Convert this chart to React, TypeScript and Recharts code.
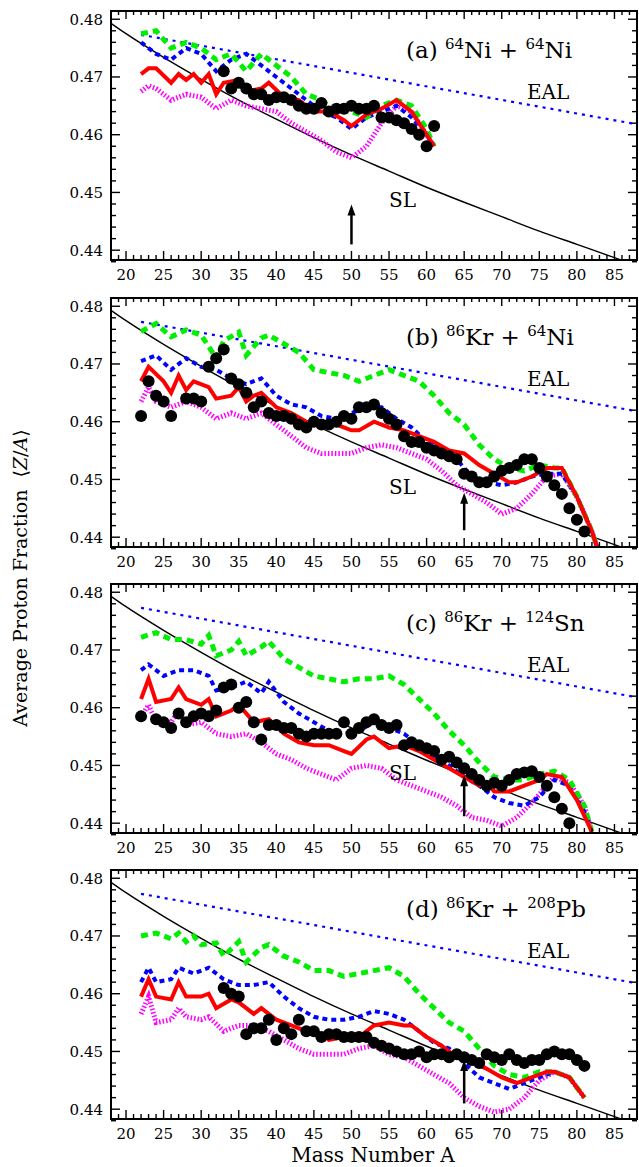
import React from 'react';
import { ComposedChart, Line, Scatter, XAxis, YAxis, ReferenceDot, ReferenceLine } from 'recharts';

type Pt = [number, number];

// Mass numbers and reference lines
const slA = [18, 20, 25, 30, 35, 40, 45, 50, 55, 60, 65, 70, 75, 80, 85, 88];
const slZA = [0.4793, 0.4775, 0.4734, 0.4696, 0.466, 0.4627, 0.4595, 0.4565, 0.4537, 0.4509, 0.4483, 0.4458, 0.4433, 0.441, 0.4387, 0.4373];
const ealA = [22, 88];
const ealZA = [0.4773, 0.4618];

// (a) 64Ni + 64Ni
const aGreen: Pt[] = [[22, 0.4775], [24, 0.478], [26, 0.475], [28, 0.476], [30, 0.475], [32, 0.473], [34, 0.474], [36, 0.471], [38, 0.474], [40, 0.472], [42, 0.47], [44, 0.467], [46, 0.466], [48, 0.464], [50, 0.464], [52, 0.463], [54, 0.465], [56, 0.466], [58, 0.465], [60, 0.461], [61, 0.458]];
const aBlue: Pt[] = [[22, 0.476], [24, 0.474], [26, 0.473], [28, 0.475], [30, 0.474], [32, 0.471], [34, 0.473], [36, 0.474], [38, 0.472], [40, 0.47], [42, 0.468], [44, 0.466], [46, 0.464], [48, 0.463], [50, 0.461], [52, 0.463], [54, 0.464], [56, 0.465], [58, 0.463], [60, 0.46], [61, 0.458]];
const aRed: Pt[] = [[22, 0.4705], [23, 0.4715], [24, 0.4715], [26, 0.469], [27, 0.4705], [28, 0.4695], [29, 0.4705], [30, 0.469], [31, 0.4705], [32, 0.467], [33, 0.469], [35, 0.4695], [36, 0.4675], [38, 0.468], [39, 0.469], [41, 0.4665], [43, 0.466], [45, 0.464], [47, 0.464], [49, 0.4625], [50, 0.4615], [52, 0.4635], [54, 0.4645], [56, 0.466], [58, 0.464], [60, 0.46], [61, 0.458]];
const aMagenta: Pt[] = [[22, 0.4675], [23, 0.4685], [24, 0.468], [26, 0.466], [28, 0.467], [30, 0.4665], [32, 0.4645], [34, 0.466], [36, 0.465], [38, 0.4645], [40, 0.464], [42, 0.462], [44, 0.4605], [46, 0.459], [48, 0.457], [50, 0.456], [52, 0.458], [54, 0.462], [56, 0.465], [58, 0.464], [60, 0.46], [61, 0.458]];
const aExp: Pt[] = [[33, 0.471], [34, 0.468], [35, 0.469], [36, 0.468], [37, 0.467], [38, 0.467], [39, 0.466], [40, 0.4665], [41, 0.4665], [42, 0.466], [43, 0.465], [44, 0.4645], [45, 0.4645], [46, 0.4655], [47, 0.464], [48, 0.4645], [49, 0.4645], [50, 0.465], [51, 0.4645], [52, 0.4645], [53, 0.465], [54, 0.463], [55, 0.463], [56, 0.4625], [57, 0.462], [58, 0.461], [59, 0.46], [60, 0.458], [61, 0.4615]];

// (b) 86Kr + 64Ni
const bGreen: Pt[] = [[22, 0.4756], [24, 0.477], [26, 0.4747], [28, 0.4759], [30, 0.475], [32, 0.471], [33, 0.474], [35, 0.4755], [36, 0.4715], [38, 0.4745], [39, 0.475], [41, 0.4735], [43, 0.472], [45, 0.469], [47, 0.4685], [49, 0.468], [51, 0.467], [53, 0.468], [55, 0.469], [57, 0.468], [59, 0.467], [61, 0.4645], [63, 0.4615], [65, 0.4595], [67, 0.456], [69, 0.4535], [71, 0.452], [73, 0.4515], [75, 0.4525], [77, 0.452], [78, 0.452], [80, 0.447], [82, 0.441], [83, 0.437]];
const bBlue: Pt[] = [[22, 0.4705], [24, 0.4715], [26, 0.469], [28, 0.471], [30, 0.4695], [32, 0.469], [34, 0.4675], [36, 0.4665], [38, 0.4675], [40, 0.4645], [42, 0.463], [44, 0.4625], [46, 0.461], [48, 0.4605], [50, 0.4615], [52, 0.4625], [54, 0.4625], [56, 0.4605], [58, 0.459], [60, 0.4565], [62, 0.4555], [64, 0.4535], [66, 0.4505], [68, 0.4495], [70, 0.449], [72, 0.4495], [74, 0.4505], [76, 0.451], [78, 0.451], [80, 0.447], [82, 0.441], [83, 0.437]];
const bRed: Pt[] = [[22, 0.467], [23, 0.4695], [25, 0.467], [26, 0.465], [27, 0.468], [28, 0.4655], [29, 0.467], [31, 0.466], [32, 0.464], [34, 0.4645], [35, 0.466], [36, 0.4635], [37, 0.4645], [38, 0.465], [40, 0.4625], [42, 0.4615], [44, 0.46], [46, 0.4595], [48, 0.4595], [50, 0.4585], [51, 0.4585], [53, 0.46], [55, 0.459], [57, 0.4585], [59, 0.4575], [61, 0.4565], [63, 0.455], [65, 0.4545], [67, 0.4525], [69, 0.451], [71, 0.4495], [72, 0.4495], [74, 0.4505], [76, 0.452], [78, 0.452], [80, 0.447], [82, 0.441], [83, 0.437]];
const bMagenta: Pt[] = [[22, 0.4635], [23, 0.466], [24, 0.4635], [26, 0.4625], [28, 0.4635], [30, 0.4625], [32, 0.4605], [34, 0.4615], [36, 0.4605], [38, 0.4615], [40, 0.4595], [42, 0.4575], [44, 0.4555], [46, 0.4545], [48, 0.4545], [50, 0.4545], [52, 0.4555], [54, 0.456], [56, 0.4555], [58, 0.4545], [60, 0.4535], [62, 0.4515], [64, 0.449], [66, 0.4475], [68, 0.446], [70, 0.444], [72, 0.445], [74, 0.4475], [76, 0.4505], [78, 0.451], [80, 0.447], [82, 0.441], [83, 0.437]];
const bExp: Pt[] = [[22, 0.461], [23, 0.467], [24, 0.4645], [25, 0.4635], [26, 0.461], [28, 0.464], [29, 0.464], [30, 0.4635], [31, 0.4695], [32, 0.471], [33, 0.4725], [34, 0.4675], [35, 0.4665], [36, 0.465], [37, 0.4625], [38, 0.4635], [39, 0.4615], [40, 0.461], [41, 0.461], [42, 0.4605], [43, 0.4595], [44, 0.459], [45, 0.46], [46, 0.4595], [47, 0.4595], [48, 0.46], [49, 0.461], [50, 0.4605], [51, 0.4625], [52, 0.4625], [53, 0.463], [54, 0.4615], [55, 0.4605], [56, 0.4595], [57, 0.4575], [58, 0.4565], [59, 0.4565], [60, 0.4555], [61, 0.455], [62, 0.4545], [63, 0.454], [64, 0.4535], [65, 0.451], [66, 0.4505], [67, 0.4495], [68, 0.4495], [69, 0.4505], [70, 0.4515], [71, 0.452], [72, 0.4525], [73, 0.4535], [74, 0.4535], [75, 0.452], [76, 0.4505], [77, 0.449], [78, 0.4475], [79, 0.445], [80, 0.443], [81, 0.441]];

// (c) 86Kr + 124Sn
const cGreen: Pt[] = [[22, 0.4722], [24, 0.473], [26, 0.4718], [28, 0.4718], [30, 0.471], [31, 0.4725], [32, 0.469], [34, 0.47], [35, 0.4715], [36, 0.469], [38, 0.4705], [39, 0.4715], [41, 0.4685], [43, 0.467], [45, 0.4655], [47, 0.465], [49, 0.4645], [51, 0.465], [53, 0.465], [55, 0.4655], [57, 0.464], [59, 0.4615], [61, 0.459], [63, 0.456], [65, 0.4535], [67, 0.4505], [69, 0.448], [71, 0.4475], [73, 0.4475], [75, 0.4485], [77, 0.449], [79, 0.4475], [81, 0.443], [82, 0.4385]];
const cBlue: Pt[] = [[22, 0.4665], [23, 0.4675], [25, 0.4655], [27, 0.4665], [29, 0.4665], [31, 0.4655], [32, 0.463], [34, 0.4635], [36, 0.4645], [38, 0.4625], [39, 0.4645], [41, 0.461], [43, 0.459], [45, 0.4575], [47, 0.456], [49, 0.4555], [51, 0.456], [53, 0.4575], [55, 0.4565], [57, 0.4555], [59, 0.4535], [61, 0.4515], [63, 0.45], [65, 0.448], [67, 0.4465], [69, 0.4445], [71, 0.4435], [73, 0.443], [75, 0.4445], [77, 0.4475], [79, 0.4465], [81, 0.442], [82, 0.4385]];
const cRed: Pt[] = [[22, 0.4615], [23, 0.465], [24, 0.461], [26, 0.4615], [27, 0.4635], [28, 0.4615], [30, 0.4605], [31, 0.4615], [32, 0.4585], [34, 0.4595], [35, 0.4605], [37, 0.4575], [39, 0.458], [41, 0.4555], [43, 0.454], [45, 0.4535], [47, 0.4535], [49, 0.4525], [50, 0.452], [52, 0.4545], [53, 0.455], [55, 0.453], [57, 0.4535], [59, 0.4525], [61, 0.451], [63, 0.4495], [65, 0.448], [67, 0.4465], [68, 0.447], [69, 0.4455], [71, 0.4455], [73, 0.4465], [75, 0.4475], [76, 0.4485], [78, 0.448], [80, 0.444], [82, 0.4385]];
const cMagenta: Pt[] = [[22, 0.4585], [23, 0.4605], [24, 0.4575], [26, 0.4575], [27, 0.4595], [28, 0.457], [30, 0.4575], [32, 0.4555], [34, 0.455], [36, 0.4555], [38, 0.454], [40, 0.452], [42, 0.451], [44, 0.4495], [46, 0.4485], [48, 0.4475], [50, 0.4495], [52, 0.45], [54, 0.4495], [56, 0.4475], [58, 0.4465], [60, 0.4455], [62, 0.4445], [64, 0.443], [66, 0.441], [68, 0.4405], [70, 0.4395], [72, 0.441], [74, 0.4435], [76, 0.4465], [77, 0.448], [79, 0.447], [81, 0.443], [82, 0.4385]];
const cExp: Pt[] = [[22, 0.4585], [24, 0.458], [25, 0.4575], [26, 0.4565], [27, 0.459], [28, 0.4575], [29, 0.4585], [30, 0.459], [31, 0.4585], [32, 0.4595], [33, 0.4635], [34, 0.464], [35, 0.46], [36, 0.461], [37, 0.4575], [38, 0.4545], [39, 0.457], [40, 0.457], [41, 0.4565], [42, 0.4565], [43, 0.4555], [44, 0.455], [45, 0.4555], [46, 0.4555], [47, 0.4555], [48, 0.4555], [49, 0.4575], [50, 0.4555], [51, 0.4565], [52, 0.4575], [53, 0.458], [54, 0.457], [55, 0.4565], [56, 0.457], [57, 0.4535], [58, 0.454], [59, 0.4535], [60, 0.453], [61, 0.4525], [62, 0.451], [63, 0.4515], [64, 0.4505], [65, 0.4495], [66, 0.4485], [67, 0.4475], [68, 0.4465], [69, 0.447], [70, 0.4465], [71, 0.4475], [72, 0.4485], [73, 0.4488], [74, 0.449], [75, 0.448], [76, 0.4465], [77, 0.4445], [78, 0.4425], [79, 0.44]];

// (d) 86Kr + 208Pb
const dGreen: Pt[] = [[22, 0.47], [24, 0.4705], [26, 0.4695], [27, 0.4705], [28, 0.469], [29, 0.47], [30, 0.4685], [32, 0.4688], [33, 0.4665], [35, 0.469], [36, 0.4655], [38, 0.468], [39, 0.4685], [41, 0.4665], [43, 0.4655], [45, 0.464], [47, 0.464], [49, 0.463], [51, 0.4635], [53, 0.464], [55, 0.4645], [57, 0.463], [59, 0.46], [61, 0.4575], [63, 0.455], [65, 0.4535], [67, 0.4505], [69, 0.4475], [71, 0.446], [73, 0.4455], [75, 0.4465], [77, 0.4465], [79, 0.4455], [81, 0.442]];
const dBlue: Pt[] = [[22, 0.462], [23, 0.4645], [24, 0.462], [26, 0.4625], [27, 0.4645], [29, 0.4635], [31, 0.4645], [33, 0.4625], [35, 0.4615], [37, 0.4615], [39, 0.462], [41, 0.4595], [43, 0.4575], [45, 0.456], [47, 0.4555], [49, 0.4555], [51, 0.456], [53, 0.457], [55, 0.4565], [57, 0.4555], [59, 0.4535], [61, 0.4515], [63, 0.4505], [65, 0.448], [67, 0.4455], [69, 0.4445], [71, 0.4435], [73, 0.4445], [75, 0.4455], [77, 0.4465], [79, 0.4455], [81, 0.442]];
const dRed: Pt[] = [[22, 0.4595], [23, 0.4625], [24, 0.4595], [26, 0.459], [27, 0.462], [28, 0.4595], [30, 0.4595], [31, 0.46], [32, 0.4575], [34, 0.459], [35, 0.4585], [37, 0.4565], [38, 0.4575], [40, 0.4555], [42, 0.4545], [44, 0.4535], [46, 0.453], [47, 0.452], [49, 0.4525], [51, 0.4525], [53, 0.4545], [55, 0.455], [57, 0.4545], [58, 0.4545], [60, 0.4525], [62, 0.451], [64, 0.449], [66, 0.4485], [68, 0.447], [70, 0.4455], [72, 0.4445], [74, 0.4455], [76, 0.4465], [77, 0.4465], [79, 0.4455], [81, 0.442]];
const dMagenta: Pt[] = [[22, 0.4565], [23, 0.4595], [24, 0.455], [26, 0.4555], [27, 0.4575], [28, 0.456], [30, 0.4555], [31, 0.456], [33, 0.4535], [35, 0.4545], [37, 0.4545], [39, 0.4535], [41, 0.452], [43, 0.4505], [45, 0.4495], [47, 0.4495], [49, 0.4495], [51, 0.4505], [53, 0.451], [55, 0.4495], [57, 0.449], [59, 0.4475], [61, 0.446], [63, 0.4445], [65, 0.442], [67, 0.4405], [69, 0.4395], [71, 0.44], [73, 0.442], [75, 0.445], [77, 0.4465], [79, 0.4455], [81, 0.442]];
const dExp: Pt[] = [[33, 0.461], [34, 0.46], [35, 0.4595], [36, 0.453], [37, 0.454], [38, 0.454], [39, 0.4555], [40, 0.452], [41, 0.454], [42, 0.453], [43, 0.4555], [44, 0.4535], [45, 0.4535], [46, 0.4525], [47, 0.453], [48, 0.453], [49, 0.4525], [50, 0.4525], [51, 0.4525], [52, 0.4525], [53, 0.4515], [54, 0.451], [55, 0.4505], [56, 0.45], [57, 0.4495], [58, 0.4495], [59, 0.45], [60, 0.449], [61, 0.4495], [62, 0.4495], [63, 0.449], [64, 0.4495], [65, 0.449], [66, 0.4485], [67, 0.448], [68, 0.4495], [69, 0.449], [70, 0.4485], [71, 0.4495], [72, 0.4485], [73, 0.448], [74, 0.4485], [75, 0.4485], [76, 0.4495], [77, 0.45], [78, 0.4495], [79, 0.4495], [80, 0.4485], [81, 0.4475]];

const xMajor = [20, 25, 30, 35, 40, 45, 50, 55, 60, 65, 70, 75, 80, 85];
const xMinor = Array.from({ length: 70 }, (_, i) => 18 + i);
const yMajor = [0.44, 0.45, 0.46, 0.47, 0.48];
const yMinor = Array.from({ length: 22 }, (_, i) => +(0.438 + i * 0.002).toFixed(3));

const toRows = (pts: Pt[]) => pts.map(([a, v]) => ({ a, v }));
const slRows = slA.map((a, i) => ({ a, v: slZA[i] }));
const ealRows = ealA.map((a, i) => ({ a, v: ealZA[i] }));

const FONT = '"DejaVu Serif", serif';
const X0 = 18, X1 = 88, Y0 = 0.4383, Y1 = 0.4816;
// plot box in panel pixels (frame and inward ticks are drawn on top)
const PL = 111, PR = 637, PT = 0, PB = 250;
const px = (a: number) => PL + ((a - X0) / (X1 - X0)) * (PR - PL);
const py = (v: number) => PT + ((Y1 - v) / (Y1 - Y0)) * (PB - PT);

function Frame() {
  const lines: React.ReactNode[] = [];
  xMinor.forEach((a) => {
    const L = xMajor.includes(a) ? 9 : 5;
    lines.push(<line key={'b' + a} x1={px(a)} x2={px(a)} y1={PB} y2={PB - L} />);
    lines.push(<line key={'t' + a} x1={px(a)} x2={px(a)} y1={PT} y2={PT + L} />);
  });
  yMinor.forEach((v) => {
    const L = Math.abs(Math.round(v * 100) / 100 - v) < 1e-6 ? 9 : 5;
    lines.push(<line key={'l' + v} x1={PL} x2={PL + L} y1={py(v)} y2={py(v)} />);
    lines.push(<line key={'r' + v} x1={PR} x2={PR - L} y1={py(v)} y2={py(v)} />);
  });
  return (
    <svg width={639} height={286} style={{ position: 'absolute', left: 0, top: 0, pointerEvents: 'none' }}>
      <g stroke="#000" strokeWidth={1.4}>{lines}</g>
      <rect x={PL} y={PT + 1} width={PR - PL} height={PB - PT - 1} fill="none" stroke="#000" strokeWidth={2} />
    </svg>
  );
}

interface PanelProps {
  green: Pt[]; blue: Pt[]; red: Pt[]; magenta: Pt[]; exp: Pt[];
  arrowA: number; arrowTip: number; arrowBase: number;
}

function Panel({ green, blue, red, magenta, exp, arrowA, arrowTip, arrowBase }: PanelProps) {
  return (
    <ComposedChart width={639} height={286} margin={{ top: 0, right: 2, left: 0, bottom: 0 }}>
      <XAxis type="number" dataKey="a" domain={[X0, X1]} ticks={xMajor} allowDataOverflow
        tick={{ fontFamily: FONT, fontSize: 15, fill: '#000' }} tickSize={0} tickMargin={9} height={36}
        axisLine={{ stroke: '#000', strokeWidth: 2 }} />
      <YAxis type="number" domain={[Y0, Y1]} ticks={yMajor} allowDataOverflow width={111}
        tickFormatter={(v: number) => v.toFixed(2)} tick={{ fontFamily: FONT, fontSize: 15, fill: '#000' }}
        tickSize={0} tickMargin={8} axisLine={{ stroke: '#000', strokeWidth: 2 }} />

      <Line data={ealRows} dataKey="v" stroke="#0000ff" strokeWidth={2.2} strokeDasharray="3 5" dot={false} isAnimationActive={false} />
      <Line data={slRows} dataKey="v" type="monotone" stroke="#000" strokeWidth={1.4} dot={false} isAnimationActive={false} />
      <Scatter data={toRows(exp)} dataKey="v" fill="#000" isAnimationActive={false}
        shape={(p: any) => <circle cx={p.cx} cy={p.cy} r={6} fill="#000" />} />
      <Line data={toRows(magenta)} dataKey="v" stroke="#ff00ff" strokeWidth={5} strokeDasharray="1.5 2" dot={false} isAnimationActive={false} />
      <Line data={toRows(blue)} dataKey="v" stroke="#0000ff" strokeWidth={4} strokeDasharray="5 4" dot={false} isAnimationActive={false} />
      <Line data={toRows(green)} dataKey="v" stroke="#00ee00" strokeWidth={5} strokeDasharray="7 5" dot={false} isAnimationActive={false} />
      <Line data={toRows(red)} dataKey="v" stroke="#ff0000" strokeWidth={4} dot={false} isAnimationActive={false} />

      <ReferenceLine segment={[{ x: arrowA, y: arrowBase }, { x: arrowA, y: arrowTip - 0.0015 }]} stroke="#000" strokeWidth={2.5} />
      <ReferenceDot x={arrowA} y={arrowTip} r={0}
        shape={(p: any) => <polygon points={`${p.cx},${p.cy} ${p.cx - 4},${p.cy + 11} ${p.cx + 4},${p.cy + 11}`} fill="#000" />} />
    </ComposedChart>
  );
}

const panels: (PanelProps & { top: number; title: string[]; sl: boolean })[] = [
  { top: 10, title: ['(a) ', '64', 'Ni + ', '64', 'Ni'], sl: true, green: aGreen, blue: aBlue, red: aRed, magenta: aMagenta, exp: aExp, arrowA: 50, arrowTip: 0.4479, arrowBase: 0.441 },
  { top: 297, title: ['(b) ', '86', 'Kr + ', '64', 'Ni'], sl: true, green: bGreen, blue: bBlue, red: bRed, magenta: bMagenta, exp: bExp, arrowA: 65, arrowTip: 0.4477, arrowBase: 0.4412 },
  { top: 583, title: ['(c) ', '86', 'Kr + ', '124', 'Sn'], sl: true, green: cGreen, blue: cBlue, red: cRed, magenta: cMagenta, exp: cExp, arrowA: 65, arrowTip: 0.4483, arrowBase: 0.4412 },
  { top: 869, title: ['(d) ', '86', 'Kr + ', '208', 'Pb'], sl: false, green: dGreen, blue: dBlue, red: dRed, magenta: dMagenta, exp: dExp, arrowA: 65, arrowTip: 0.4485, arrowBase: 0.441 },
];

export default function App() {
  const txt: React.CSSProperties = { position: 'absolute', fontFamily: FONT, color: '#000', whiteSpace: 'nowrap', lineHeight: 1 };
  return (
    <div style={{ position: 'absolute', left: 0, top: 0, width: 639, height: 1167, overflow: 'hidden', background: '#fff' }}>
      {panels.map((p) => (
        <div key={p.top} style={{ position: 'absolute', left: 0, top: p.top, width: 639, height: 286 }}>
          <Panel {...p} />
          <Frame />
          <div style={{ ...txt, left: 406, top: 27, fontSize: 23 }}>
            {p.title[0]}<sup style={{ fontSize: 15 }}>{p.title[1]}</sup>{p.title[2]}<sup style={{ fontSize: 15 }}>{p.title[3]}</sup>{p.title[4]}
          </div>
          <div style={{ ...txt, left: 527, top: 72, fontSize: 20 }}>EAL</div>
          {p.sl && <div style={{ ...txt, left: 389, top: 180, fontSize: 20 }}>SL</div>}
        </div>
      ))}
      <div style={{ ...txt, left: 20, top: 578, fontSize: 19, transform: 'translate(-50%, -50%) rotate(-90deg)' }}>
        Average Proton Fraction &nbsp;⟨<i>Z</i>/<i>A</i>⟩
      </div>
      <div style={{ ...txt, left: 373, top: 1145, fontSize: 20, transform: 'translateX(-50%)' }}>Mass Number A</div>
    </div>
  );
}
